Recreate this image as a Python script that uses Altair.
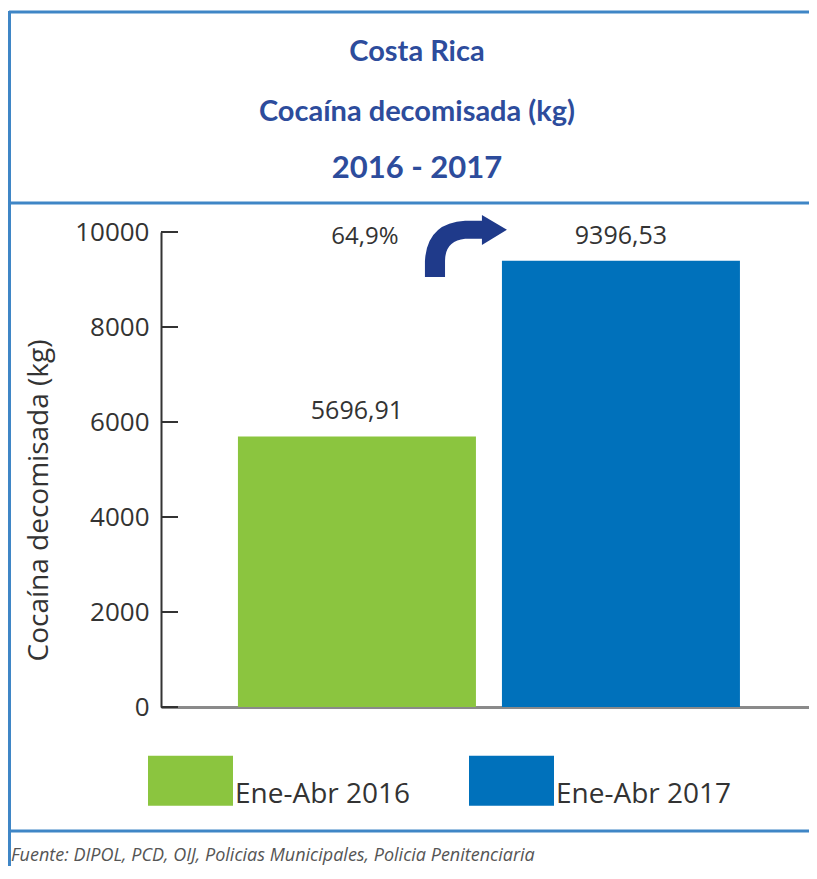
import altair as alt
import pandas as pd

# ---- data ----
categories = ["Ene-Abr 2016", "Ene-Abr 2017"]
values = [5696.91, 9396.53]
value_labels = ["5696,91", "9396,53"]
bar_colors = ["#8bc53f", "#0071bb"]
y_ticks = [0, 2000, 4000, 6000, 8000, 10000]
change_label = "64,9%"
title_lines = ["Costa Rica", "Cocaína decomisada (kg)", "2016 - 2017"]
y_title = "Cocaína decomisada (kg)"
source_text = "Fuente: DIPOL, PCD, OIJ, Policias Municipales, Policia Penitenciaria"

# ---- styling ----
W, H = 648, 475
BORDER = "#3f86c6"
TITLE_C = "#2d4c9c"
TEXT_C = "#333333"
FONT = "Open Sans"

bars_df = pd.DataFrame({"cat": categories, "val": values, "lab": value_labels})
ticks_df = pd.DataFrame({"t": y_ticks})
ann_df = pd.DataFrame({"cat": [categories[0]], "pct": [change_label],
                       "ypct": [9895], "yarr": [9726]})
one = pd.DataFrame({"a": [0]})

xscale = alt.Scale(domain=categories, paddingInner=26 / 264,
                   paddingOuter=0.2765, align=0.527)
yscale = alt.Scale(domain=[0, 10000], nice=False)

X = alt.X("cat:N", scale=xscale, sort=categories,
          axis=alt.Axis(labels=False, ticks=False, title=None, domain=True,
                        domainColor="#8a8a8a", domainWidth=3))

bars = alt.Chart(bars_df).mark_bar().encode(
    x=X,
    y=alt.Y("val:Q", scale=yscale,
            axis=alt.Axis(values=y_ticks, format="d", grid=False, ticks=False,
                          tickSize=0, labelPadding=12, labelFontSize=26,
                          labelFont=FONT, labelColor=TEXT_C, domainColor=TEXT_C,
                          domainWidth=2,
                          title=y_title, titleFont=FONT, titleFontSize=28,
                          titleFontWeight="normal", titleColor=TEXT_C,
                          titleAngle=270, titleX=-122, titleY=268,
                          titleAlign="center", titleBaseline="middle")),
    color=alt.Color("cat:N", scale=alt.Scale(domain=categories, range=bar_colors),
                    legend=alt.Legend(orient="none", legendX=-13, legendY=506,
                                      direction="horizontal", title=None,
                                      symbolType="M-1,-0.588H1V0.588H-1Z",
                                      symbolSize=7225, symbolStrokeWidth=0,
                                      symbolOpacity=1,
                                      labelFont=FONT, labelFontSize=28,
                                      labelColor=TEXT_C, labelOffset=2,
                                      labelLimit=400, labelBaseline="top",
                                      columnPadding=58, padding=0)),
)

labels = alt.Chart(bars_df).mark_text(font=FONT, fontSize=25, color=TEXT_C,
                                      baseline="alphabetic", dy=-17).encode(
    x=X, y=alt.Y("val:Q", scale=yscale), text="lab:N")

ticks = alt.Chart(ticks_df).mark_rule(color=TEXT_C, strokeWidth=2).encode(
    y=alt.Y("t:Q", scale=yscale), x=alt.value(0), x2=alt.value(17))

pct = alt.Chart(ann_df).mark_text(font=FONT, fontSize=24, color=TEXT_C,
                                  baseline="middle", dx=8).encode(
    x=X, y=alt.Y("ypct:Q", scale=yscale), text="pct:N")

arrow_path = ("M-1,0.78 L-1,0.39 Q-0.95,-0.54 -0.02,-0.59 L0.39,-0.59 "
              "L0.39,-0.73 L1,-0.37 L0.39,0 L0.39,-0.15 L-0.02,-0.15 "
              "Q-0.51,-0.10 -0.51,0.39 L-0.51,0.78 Z")
arrow = alt.Chart(ann_df).mark_point(shape=arrow_path, size=6724, filled=True,
                                     fill="#1f3a8a", opacity=1, strokeWidth=0,
                                     xOffset=109).encode(
    x=X, y=alt.Y("yarr:Q", scale=yscale))

# frame lines of the original graphic
frame_top = alt.Chart(one).mark_rule(color=BORDER, strokeWidth=3).encode(
    x=alt.value(-152), x2=alt.value(W + 20), y=alt.value(-220))
frame_mid = alt.Chart(one).mark_rule(color=BORDER, strokeWidth=3).encode(
    x=alt.value(-152), x2=alt.value(W + 20), y=alt.value(-29))
frame_bot = alt.Chart(one).mark_rule(color=BORDER, strokeWidth=3).encode(
    x=alt.value(-152), x2=alt.value(W + 20), y=alt.value(599))
frame_left = alt.Chart(one).mark_rule(color=BORDER, strokeWidth=3).encode(
    x=alt.value(-151.5), y=alt.value(-221), y2=alt.value(H + 200))

t_sizes = [29, 29, 31]
t_y = [-171, -111, -54]
titles = []
for txt, fs, yy in zip(title_lines, t_sizes, t_y):
    titles.append(alt.Chart(one).mark_text(font="Lato", fontWeight="bold",
                                           fontSize=fs, color=TITLE_C,
                                           align="center", baseline="alphabetic",
                                           text=txt).encode(
        x=alt.value(256), y=alt.value(yy)))

footer = alt.Chart(one).mark_text(font=FONT, fontStyle="italic", fontSize=18,
                                  color="#555555", align="left",
                                  baseline="middle", text=source_text).encode(
    x=alt.value(-150), y=alt.value(624))

chart = alt.layer(frame_top, frame_mid, frame_bot, frame_left, bars, labels,
                  ticks, pct, arrow, *titles, footer).properties(
    width=W, height=H,
    autosize=alt.AutoSizeParams(type="none"),
    padding={"left": 153, "top": 224, "right": 0, "bottom": 159},
).configure_view(stroke=None)

chart.save("out.html", embed_options={"renderer": "svg", "actions": False})
